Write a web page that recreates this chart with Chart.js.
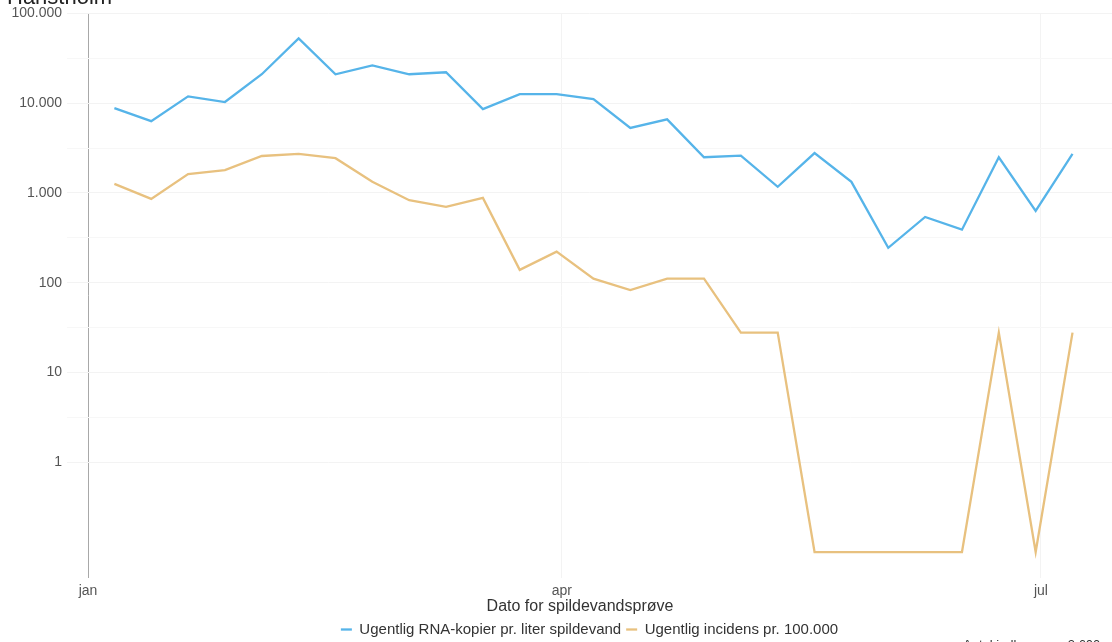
<!DOCTYPE html>
<html>
<head>
<meta charset="utf-8">
<script src="https://cdn.jsdelivr.net/npm/chart.js@4/dist/chart.umd.min.js"></script>
<style>
    html, body { margin: 0; padding: 0; background: #fff; overflow: hidden; }
    #wrap { width: 1112px; height: 642px; overflow: hidden; position: relative; }
</style>
</head>
<body>
<div id="wrap"><canvas id="chart" width="1112" height="660"></canvas></div>
<script>
// Prøvedatoer (ugentlige)
const sampleDates = [
    '2021-01-06', '2021-01-13', '2021-01-20', '2021-01-27', '2021-02-03', '2021-02-10',
    '2021-02-17', '2021-02-24', '2021-03-03', '2021-03-10', '2021-03-17', '2021-03-24',
    '2021-03-31', '2021-04-07', '2021-04-14', '2021-04-21', '2021-04-28', '2021-05-05',
    '2021-05-12', '2021-05-19', '2021-05-26', '2021-06-02', '2021-06-09', '2021-06-16',
    '2021-06-23', '2021-06-30', '2021-07-07'
];

// Ugentlig RNA-kopier pr. liter spildevand
const rnaCopies = [
    8800, 6300, 11900, 10300, 21000, 52700, 21000, 26400, 21000, 22100, 8600, 12600,
    12600, 11100, 5300, 6600, 2500, 2600, 1170, 2780, 1330, 245, 540, 390,
    2500, 630, 2720
];

// Ugentlig incidens pr. 100.000 (0 = ingen tilfælde)
const incidence = [
    1260, 860, 1620, 1800, 2580, 2720, 2440, 1330, 830, 700, 880, 139,
    222, 111, 83, 111, 111, 27.8, 27.8, 0, 0, 0, 0, 0,
    27.8, 0, 27.8
];

const monthTicks = ['2021-01-01', '2021-04-01', '2021-07-01'];
const monthLabels = ['jan', 'apr', 'jul'];
const yTicks = [1, 10, 100, 1000, 10000, 100000];
const yTickLabels = ['1', '10', '100', '1.000', '10.000', '100.000'];

const zeroLevel = 0.1; // nul-værdier tegnes i bunden af log-aksen

function dayOf(d) {
    return (Date.parse(d) - Date.parse('2021-01-01')) / 86400000;
}

const toPoints = (values) => sampleDates.map((d, i) => ({
    x: dayOf(d),
    y: values[i] > 0 ? values[i] : zeroLevel
}));

// hovedlinjer + mellemlinjer (halve dekader) i gitteret
const yGrid = [];
yTicks.forEach((t, i) => {
    yGrid.push(t);
    if (i < yTicks.length - 1) yGrid.push(Math.sqrt(t * yTicks[i + 1]));
});

const textPlugin = {
    id: 'texts',
    afterDraw(chart) {
        const c = chart.ctx;
        c.save();
        c.fillStyle = '#222';
        c.font = '22px "Liberation Sans", Arial, sans-serif';
        c.textAlign = 'left';
        c.textBaseline = 'alphabetic';
        c.fillText('Hanstholm', 7, 4);

        c.fillStyle = '#333';
        c.font = '16px "Liberation Sans", Arial, sans-serif';
        c.textAlign = 'center';
        c.textBaseline = 'middle';
        c.fillText('Dato for spildevandsprøve', 580, 607);

        c.fillStyle = '#333';
        c.font = '13px "Liberation Sans", Arial, sans-serif';
        c.textAlign = 'left';
        c.textBaseline = 'top';
        c.fillText('Antal indbyggere: 3.600', 963, 639);
        c.restore();
    }
};

const ctx = document.getElementById('chart').getContext('2d');

const chart = new Chart(ctx, {
    type: 'line',
    data: {
        datasets: [
            {
                label: 'Ugentlig RNA-kopier pr. liter spildevand',
                data: toPoints(rnaCopies),
                borderColor: '#56B4E9',
                backgroundColor: '#56B4E9',
                borderWidth: 2.3,
                pointRadius: 0,
                tension: 0,
                fill: false
            },
            {
                label: 'Ugentlig incidens pr. 100.000',
                data: toPoints(incidence),
                borderColor: '#E8C17F',
                backgroundColor: '#E8C17F',
                borderWidth: 2.3,
                pointRadius: 0,
                tension: 0,
                fill: false
            }
        ]
    },
    options: {
        responsive: false,
        animation: false,
        layout: { padding: { top: 11, right: 0, bottom: 13, left: 0 } },
        scales: {
            x: {
                type: 'linear',
                min: -4,
                max: 194.5,
                afterBuildTicks: (scale) => {
                    scale.ticks = monthTicks.map(d => ({ value: dayOf(d) }));
                },
                afterFit: (scale) => { scale.height = 39; },
                ticks: {
                    autoSkip: false,
                    maxRotation: 0,
                    padding: 5,
                    color: '#555',
                    font: { size: 14, family: '"Liberation Sans", Arial, sans-serif' },
                    callback: (v) => monthLabels[monthTicks.findIndex(d => dayOf(d) === v)]
                },
                grid: {
                    drawTicks: false,
                    color: (c) => (c.tick && c.tick.value === 0 ? '#A8A8A8' : '#F3F3F3'),
                    lineWidth: 1
                },
                border: { display: false }
            },
            y: {
                type: 'logarithmic',
                min: 0.0514,
                max: 100000,
                afterBuildTicks: (scale) => {
                    scale.ticks = yGrid.map(v => ({ value: v }));
                },
                afterFit: (scale) => { scale.width = 67; },
                ticks: {
                    autoSkip: false,
                    padding: 5,
                    color: '#555',
                    font: { size: 14, family: '"Liberation Sans", Arial, sans-serif' },
                    callback: (v) => {
                        const i = yTicks.indexOf(v);
                        return i >= 0 ? yTickLabels[i] : '';
                    }
                },
                grid: {
                    drawTicks: false,
                    color: (c) => (c.tick && yTicks.includes(c.tick.value) ? '#F3F3F3' : '#F7F7F7'),
                    lineWidth: 1
                },
                border: { display: false }
            }
        },
        plugins: {
            legend: {
                position: 'bottom',
                fullSize: false,
                labels: {
                    usePointStyle: true,
                    pointStyle: 'line',
                    pointStyleWidth: 11,
                    boxHeight: 2,
                    padding: 5,
                    color: '#333',
                    font: { size: 15, family: '"Liberation Sans", Arial, sans-serif' }
                }
            },
            tooltip: { enabled: false }
        }
    },
    plugins: [textPlugin]
});
</script>
</body>
</html>
